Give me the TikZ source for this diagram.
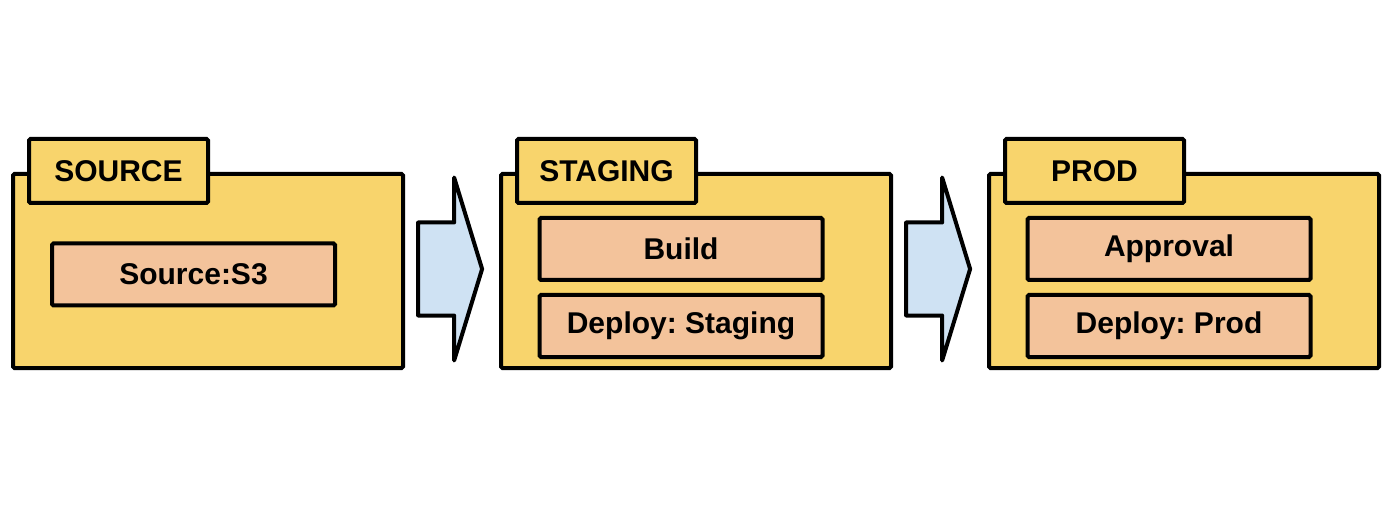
\documentclass[tikz,border=0pt]{standalone}
\usepackage{fontspec}
\setmainfont{Liberation Sans}
\usetikzlibrary{shapes.arrows}
\frenchspacing

\definecolor{folderyellow}{HTML}{F8D46C}
\definecolor{jobpeach}{HTML}{F3C39B}
\definecolor{arrowblue}{HTML}{CFE2F3}

\tikzset{
  folder/.style={draw, line width=4pt, fill=folderyellow, rounded corners=1.5pt,
    minimum width=390pt, minimum height=194pt, inner sep=0pt},
  tab/.style={draw, line width=4pt, fill=folderyellow, rounded corners=1.5pt,
    minimum width=179pt, minimum height=64pt, inner sep=0pt,
    font=\fontsize{30}{33}\selectfont\bfseries},
  job/.style={draw, line width=4pt, fill=jobpeach, rounded corners=1.5pt,
    minimum width=283pt, minimum height=62pt, inner sep=0pt,
    font=\fontsize{30}{33}\selectfont\bfseries},
  flow/.style={draw, line width=4pt, fill=arrowblue, line join=round,
    shape=single arrow, single arrow head extend=45pt, single arrow tip angle=146,
    minimum height=64pt, text height=89pt, text depth=0pt, text width=0pt, inner sep=0pt}
}

\begin{document}
\begin{tikzpicture}[x=1pt,y=-1pt]
    \useasboundingbox (0,0) rectangle (1396,510);

    % source stage
    \node[folder] (src) at (208,271) {};
    \node[tab] (srctab) at (118.5,171) {SOURCE};
    \node[job] (s3) at (193.5,274.5) {Source:S3};

    \node[flow] (flow1) at (443,269) {};

    % staging stage
    \node[folder] (stg) at (696,271) {};
    \node[tab] (stgtab) at (606.5,171) {STAGING};
    \node[job] (build) at (681,249) {Build};
    \node[job] (dstg) at (681,326) {Deploy: Staging};

    \node[flow] (flow2) at (931,269) {};

    % prod stage
    \node[folder] (prd) at (1184,271) {};
    \node[tab] (prdtab) at (1094.5,171) {PROD};
    \node[job] (appr) at (1169,249) {Approval};
    \node[job] (dprd) at (1169,326) {Deploy: Prod};
\end{tikzpicture}
\end{document}
